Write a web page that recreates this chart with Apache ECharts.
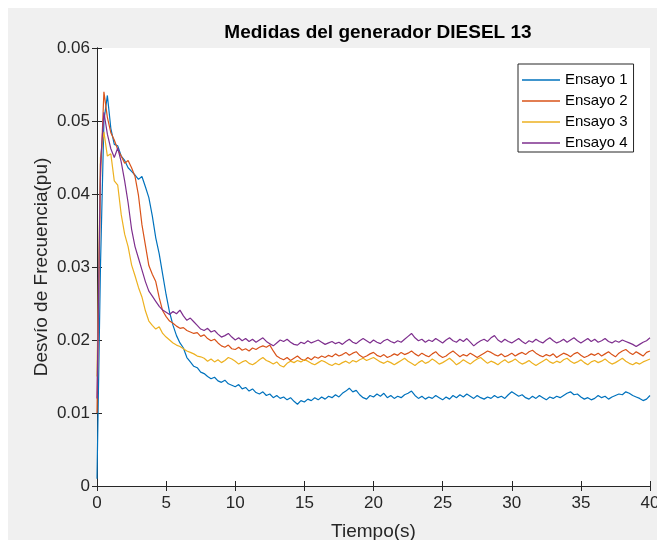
<!DOCTYPE html>
<html>
<head>
<meta charset="utf-8">
<script src="https://cdn.jsdelivr.net/npm/echarts@6/dist/echarts.min.js"></script>
<style>
  html, body { margin: 0; padding: 0; background: #ffffff; }
  #bg { position: absolute; left: 8px; top: 8px; width: 649px; height: 532px; background: #f0f0f0; }
  #chart { position: absolute; left: 0; top: 0; width: 657px; height: 540px; }
</style>
</head>
<body>
<div id="bg"></div>
<div id="chart"></div>
<script>
const TITLE = 'Medidas del generador DIESEL 13';
const X_NAME = 'Tiempo(s)';
const Y_NAME = 'Desvío de Frecuencia(pu)';
const SERIES_NAMES = ['Ensayo 1', 'Ensayo 2', 'Ensayo 3', 'Ensayo 4'];
const T_STEP = 0.25;
const X_TICKS = [0, 5, 10, 15, 20, 25, 30, 35, 40];
const Y_TICKS = [0, 0.01, 0.02, 0.03, 0.04, 0.05, 0.06];

const ensayo1 = [
  0.001, 0.030, 0.050, 0.0535, 0.0490, 0.0468, 0.0466, 0.0452, 0.0446, 0.0436,
  0.0431, 0.0426, 0.0420, 0.0424, 0.0410, 0.0395, 0.0370, 0.0340, 0.0318, 0.0290,
  0.0262, 0.0238, 0.0220, 0.0206, 0.0196, 0.0189, 0.0176, 0.0170, 0.0164, 0.0162,
  0.0156, 0.0154, 0.0150, 0.0147, 0.0149, 0.0144, 0.0142, 0.0145, 0.0140, 0.0138,
  0.0136, 0.0139, 0.0133, 0.0135, 0.0130, 0.0133, 0.0128, 0.0126, 0.0129, 0.0124,
  0.0126, 0.0121, 0.0124, 0.0120, 0.0122, 0.0118, 0.0121, 0.0116, 0.0112, 0.0117,
  0.0115, 0.0119, 0.0117, 0.0121, 0.0118, 0.0122, 0.0119, 0.0123, 0.0121, 0.0125,
  0.0122, 0.0127, 0.0130, 0.0134, 0.0129, 0.0131, 0.0125, 0.0121, 0.0119, 0.0124,
  0.0122, 0.0126, 0.0123, 0.0127, 0.0121, 0.0124, 0.0120, 0.0123, 0.0121, 0.0125,
  0.0127, 0.0130, 0.0124, 0.0120, 0.0123, 0.0119, 0.0122, 0.0120, 0.0124, 0.0121,
  0.0118, 0.0122, 0.0119, 0.0124, 0.0121, 0.0125, 0.0122, 0.0126, 0.0123, 0.0120,
  0.0124, 0.0121, 0.0119, 0.0122, 0.0120, 0.0124, 0.0121, 0.0123, 0.0120, 0.0125,
  0.0129, 0.0126, 0.0123, 0.0125, 0.0121, 0.0119, 0.0123, 0.0120, 0.0124, 0.0121,
  0.0118, 0.0122, 0.0120, 0.0123, 0.0121, 0.0124, 0.0127, 0.0129, 0.0125, 0.0126,
  0.0122, 0.0119, 0.0121, 0.0118, 0.0120, 0.0124, 0.0121, 0.0123, 0.0119, 0.0122,
  0.0124, 0.0126, 0.0125, 0.0129, 0.0127, 0.0124, 0.0122, 0.0120, 0.0117, 0.0119,
  0.0124
];
const ensayo2 = [
  0.010, 0.042, 0.0540, 0.0505, 0.0484, 0.0474, 0.0461, 0.0452, 0.0442, 0.0446,
  0.0436, 0.0424, 0.0398, 0.0358, 0.0330, 0.0302, 0.0290, 0.0280, 0.0258, 0.0240,
  0.0232, 0.0226, 0.0223, 0.0219, 0.0216, 0.0217, 0.0213, 0.0211, 0.0209, 0.0210,
  0.0205, 0.0207, 0.0202, 0.0199, 0.0201, 0.0196, 0.0192, 0.0190, 0.0193, 0.0188,
  0.0187, 0.0190, 0.0186, 0.0188, 0.0185, 0.0189, 0.0187, 0.0190, 0.0192, 0.0190,
  0.0193, 0.0185, 0.0178, 0.0175, 0.0173, 0.0176, 0.0172, 0.0175, 0.0178, 0.0174,
  0.0172, 0.0176, 0.0173, 0.0177, 0.0175, 0.0178, 0.0176, 0.0179, 0.0177, 0.0181,
  0.0178, 0.0180, 0.0183, 0.0179, 0.0182, 0.0184, 0.0179, 0.0176, 0.0178, 0.0181,
  0.0183, 0.0179, 0.0177, 0.0180, 0.0176, 0.0178, 0.0181, 0.0179, 0.0183, 0.0180,
  0.0182, 0.0185, 0.0181, 0.0178, 0.0182, 0.0179, 0.0177, 0.0181, 0.0184, 0.0179,
  0.0176, 0.0178, 0.0182, 0.0185, 0.0181, 0.0177, 0.0180, 0.0178, 0.0182, 0.0179,
  0.0176, 0.0179, 0.0182, 0.0185, 0.0183, 0.0180, 0.0178, 0.0181, 0.0177, 0.0179,
  0.0182, 0.0178, 0.0181, 0.0183, 0.0180, 0.0184, 0.0186, 0.0182, 0.0179, 0.0177,
  0.0180, 0.0178, 0.0181, 0.0176, 0.0179, 0.0182, 0.0180, 0.0177, 0.0181, 0.0183,
  0.0179, 0.0176, 0.0178, 0.0181, 0.0179, 0.0182, 0.0178, 0.0181, 0.0184, 0.0180,
  0.0177, 0.0182, 0.0185, 0.0187, 0.0183, 0.0180, 0.0184, 0.0181, 0.0178, 0.0183,
  0.0185
];
const ensayo3 = [
  0.015, 0.045, 0.0485, 0.0452, 0.0455, 0.0418, 0.0412, 0.0372, 0.0345, 0.0328,
  0.0303, 0.0288, 0.0272, 0.0259, 0.0240, 0.0226, 0.0220, 0.0215, 0.0218, 0.0209,
  0.0204, 0.0200, 0.0196, 0.0193, 0.0191, 0.0188, 0.0185, 0.0183, 0.0181, 0.0178,
  0.0177, 0.0175, 0.0171, 0.0174, 0.0170, 0.0173, 0.0169, 0.0172, 0.0176, 0.0174,
  0.0171, 0.0167, 0.0170, 0.0172, 0.0168, 0.0166, 0.0169, 0.0173, 0.0176, 0.0172,
  0.0170, 0.0167, 0.0170, 0.0165, 0.0163, 0.0168, 0.0171, 0.0169, 0.0172, 0.0170,
  0.0173, 0.0171, 0.0168, 0.0166, 0.0169, 0.0172, 0.0170, 0.0167, 0.0165, 0.0168,
  0.0166, 0.0169, 0.0171, 0.0168, 0.0172, 0.0170, 0.0173, 0.0175, 0.0172, 0.0174,
  0.0176, 0.0173, 0.0170, 0.0168, 0.0171, 0.0169, 0.0166, 0.0169, 0.0172, 0.0175,
  0.0171, 0.0168, 0.0165, 0.0169, 0.0172, 0.0168, 0.0170, 0.0174, 0.0171, 0.0167,
  0.0169, 0.0172, 0.0175, 0.0171, 0.0166, 0.0169, 0.0173, 0.0170, 0.0167, 0.0171,
  0.0174, 0.0176, 0.0172, 0.0168, 0.0171, 0.0169, 0.0166, 0.0170, 0.0173, 0.0169,
  0.0171, 0.0174, 0.0170, 0.0167, 0.0169, 0.0172, 0.0168, 0.0165, 0.0168, 0.0171,
  0.0174, 0.0170, 0.0168, 0.0171, 0.0169, 0.0173, 0.0175, 0.0171, 0.0168, 0.0170,
  0.0173, 0.0169, 0.0166, 0.0170, 0.0172, 0.0169, 0.0171, 0.0174, 0.0170, 0.0167,
  0.0169, 0.0172, 0.0175, 0.0171, 0.0168, 0.0166, 0.0169, 0.0167, 0.0170, 0.0172,
  0.0174
];
const ensayo4 = [
  0.012, 0.044, 0.0512, 0.0482, 0.0462, 0.0450, 0.0463, 0.0444, 0.0418, 0.0388,
  0.0352, 0.0328, 0.0312, 0.0296, 0.0280, 0.0267, 0.0260, 0.0253, 0.0246, 0.0241,
  0.0238, 0.0235, 0.0239, 0.0236, 0.0241, 0.0233, 0.0227, 0.0230, 0.0225, 0.0220,
  0.0215, 0.0213, 0.0216, 0.0211, 0.0213, 0.0208, 0.0204, 0.0206, 0.0209, 0.0204,
  0.0200, 0.0203, 0.0199, 0.0202, 0.0198, 0.0201, 0.0197, 0.0200, 0.0203, 0.0198,
  0.0195, 0.0192, 0.0196, 0.0200, 0.0198, 0.0201, 0.0197, 0.0194, 0.0193, 0.0197,
  0.0195, 0.0199, 0.0196, 0.0198, 0.0200, 0.0197, 0.0194, 0.0196, 0.0198, 0.0195,
  0.0197, 0.0194, 0.0198, 0.0201, 0.0197, 0.0195, 0.0199, 0.0202, 0.0199, 0.0196,
  0.0200, 0.0197, 0.0195, 0.0199, 0.0201, 0.0198, 0.0196, 0.0199, 0.0197, 0.0201,
  0.0205, 0.0209, 0.0203, 0.0199, 0.0201, 0.0197, 0.0200, 0.0198, 0.0202, 0.0199,
  0.0196, 0.0200, 0.0203, 0.0199, 0.0197, 0.0201, 0.0198, 0.0202, 0.0197, 0.0192,
  0.0196, 0.0199, 0.0201, 0.0198, 0.0203, 0.0206, 0.0200, 0.0197, 0.0201, 0.0198,
  0.0196, 0.0199, 0.0202, 0.0198, 0.0195, 0.0199, 0.0197, 0.0201, 0.0198, 0.0196,
  0.0200, 0.0203, 0.0199, 0.0196, 0.0198, 0.0201, 0.0197, 0.0200, 0.0203, 0.0199,
  0.0196, 0.0199, 0.0202, 0.0198, 0.0201, 0.0197, 0.0199, 0.0202, 0.0198, 0.0196,
  0.0199, 0.0197, 0.0200, 0.0198, 0.0196, 0.0194, 0.0191, 0.0194, 0.0197, 0.0199,
  0.0203
];
const COLORS = ['#0072BD', '#D95319', '#EDB120', '#7E2F8E'];

// ---- chart ----
const FONT = '"Liberation Sans", Arial, Helvetica, sans-serif';
const AX = '#262626';
const allSeries = [ensayo1, ensayo2, ensayo3, ensayo4];

function pairs(arr) { return arr.map((v, i) => [i * T_STEP, v]); }

const chart = echarts.init(document.getElementById('chart'), null, { renderer: 'canvas' });

const xBase = {
  type: 'value', min: X_TICKS[0], max: X_TICKS[X_TICKS.length - 1],
  interval: X_TICKS[1] - X_TICKS[0],
  axisLine: { show: true, lineStyle: { color: AX, width: 1 } },
  axisTick: { show: true, inside: true, length: 5, lineStyle: { color: AX } },
  splitLine: { show: false }
};
const yBase = {
  type: 'value', min: Y_TICKS[0], max: Y_TICKS[Y_TICKS.length - 1],
  interval: Y_TICKS[1] - Y_TICKS[0],
  axisLine: { show: true, lineStyle: { color: AX, width: 1 } },
  axisTick: { show: true, inside: true, length: 5, lineStyle: { color: AX } },
  splitLine: { show: false }
};

chart.setOption({
  animation: false,
  backgroundColor: 'transparent',
  color: COLORS,
  title: {
    text: TITLE, left: 373, top: 18, textAlign: 'center',
    textStyle: { fontFamily: FONT, fontSize: 19, fontWeight: 'bold', color: '#000' }
  },
  grid: {
    left: 97, right: 7, top: 48, bottom: 54, show: true, backgroundColor: '#ffffff', borderWidth: 0,
    containLabel: false, outerBoundsMode: 'none'
  },
  legend: {
    orient: 'vertical', left: 518, top: 64,
    data: SERIES_NAMES.map(n => ({ name: n, icon: 'rect' })),
    itemWidth: 38, itemHeight: 1.5, itemGap: 5,
    padding: [8, 6, 1, 4],
    backgroundColor: '#ffffff', borderColor: AX, borderWidth: 1, borderRadius: 0,
    textStyle: { fontFamily: FONT, fontSize: 15, color: '#000', lineHeight: 16 }
  },
  xAxis: [
    Object.assign({}, xBase, {
      position: 'bottom',
      name: X_NAME, nameLocation: 'middle', nameGap: 36, nameMoveOverlap: false,
      nameTextStyle: { fontFamily: FONT, fontSize: 19, color: AX },
      axisLabel: { show: true, margin: 9, fontFamily: FONT, fontSize: 17, color: AX }
    }),
    Object.assign({}, xBase, { position: 'top', axisLabel: { show: false } })
  ],
  yAxis: [
    Object.assign({}, yBase, {
      position: 'left',
      name: Y_NAME, nameLocation: 'middle', nameGap: 46, nameMoveOverlap: false,
      nameTextStyle: { fontFamily: FONT, fontSize: 19, color: AX },
      axisLabel: {
        show: true, margin: 7, fontFamily: FONT, fontSize: 17, color: AX,
        formatter: v => (v === 0 ? '0' : v.toFixed(2))
      }
    }),
    Object.assign({}, yBase, { position: 'right', axisLabel: { show: false } })
  ],
  series: allSeries.map((arr, k) => ({
    name: SERIES_NAMES[k], type: 'line', xAxisIndex: 0, yAxisIndex: 0,
    data: pairs(arr), symbol: 'none', showSymbol: false, smooth: false,
    lineStyle: { width: 1.2, color: COLORS[k] }, clip: true
  }))
});
</script>
</body>
</html>
